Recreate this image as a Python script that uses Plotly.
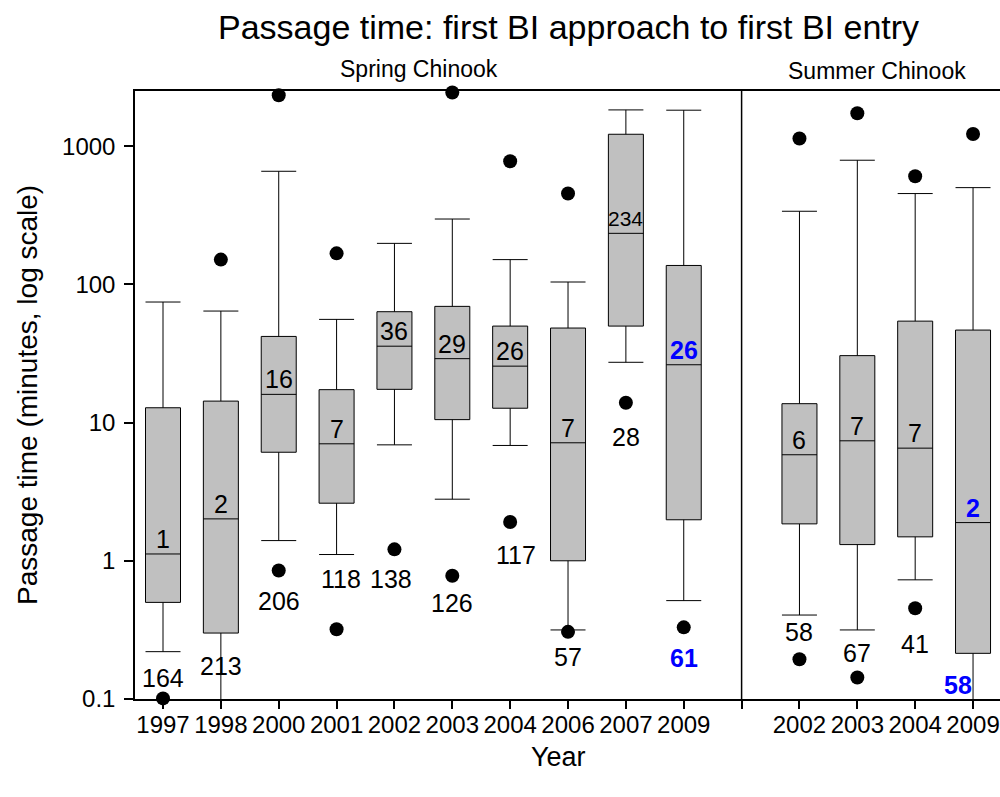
import numpy as np
import plotly.graph_objects as go

# ---- data -------------------------------------------------------------
spring_years = ["1997", "1998", "2000", "2001", "2002", "2003", "2004", "2006", "2007", "2009"]
summer_years = ["2002", "2003", "2004", "2009"]

# box summaries, passage time in minutes
spring_upper = [74.5, 64.1, 658, 55.8, 198, 297, 151, 104, 1829, 1820]
spring_q3 = [12.8, 14.3, 42, 17.3, 63.4, 69.3, 49.9, 48.3, 1219, 137]
spring_median = [1.12, 2.01, 16.0, 7.02, 35.7, 29.0, 25.6, 7.14, 234, 26.2]
spring_q1 = [0.50, 0.30, 6.1, 2.61, 17.4, 10.5, 12.7, 1.0, 49.9, 1.98]
spring_lower = [0.22, 0.04, 1.40, 1.11, 6.9, 2.79, 6.83, 0.316, 27.3, 0.515]
spring_outliers = [[0.101], [151], [2337, 0.85], [167.6, 0.32], [1.21],
                   [2445, 0.78], [778, 1.91], [454, 0.306], [13.9], [0.33]]
spring_n = [164, 213, 206, 118, 138, 126, 117, 57, 28, 61]

summer_upper = [338, 791, 454, 501]
summer_q3 = [13.7, 30.5, 54.2, 46.7]
summer_median = [5.85, 7.38, 6.53, 1.89]
summer_q1 = [1.85, 1.31, 1.49, 0.214]
summer_lower = [0.405, 0.316, 0.728, 0.04]
summer_outliers = [[1135, 0.194], [1730, 0.143], [605, 0.453], [1225]]
summer_n = [58, 67, 41, 58]

# where each sample-size label sits (minutes) and its sideways nudge (slots)
spring_n_at = [0.143, 0.1746, 0.508, 0.733, 0.733, 0.491, 1.11, 0.201, 7.80, 0.199]
spring_n_dx = [0, 0, 0, 0.07, -0.06, 0, 0.1, 0, 0, 0]
summer_n_at = [0.303, 0.217, 0.252, 0.126]
summer_n_dx = [0, 0, 0, -0.26]

tick_vals_y = [0.1, 1, 10, 100, 1000]
tick_text_y = ["0.1", "1", "10", "100", "1000"]

# ---- layout helpers ---------------------------------------------------
spring_pos = list(range(len(spring_years)))
divider_pos = len(spring_years)
summer_pos = [divider_pos + 1 + i for i in range(len(summer_years))]

positions = spring_pos + summer_pos
upper = spring_upper + summer_upper
q3 = spring_q3 + summer_q3
median = spring_median + summer_median
q1 = spring_q1 + summer_q1
lower = spring_lower + summer_lower
outliers = spring_outliers + summer_outliers
n_vals = spring_n + summer_n
n_at = spring_n_at + summer_n_at
n_dx = spring_n_dx + summer_n_dx
highlight = [y == "2009" for y in spring_years] + [y == "2009" for y in summer_years]

FONT = "Liberation Sans, Arial, Helvetica, sans-serif"
W, H = 1000, 797
ML, MR, MT, MB = 135, 0, 91, 98
PW, PH = W - ML - MR, H - MT - MB


def px_x(x):
    return (x - ML) / PW


def px_y(y):
    return (H - MB - y) / PH


fig = go.Figure()

fig.add_trace(go.Box(
    x=positions,
    q1=q1, median=median, q3=q3,
    lowerfence=lower, upperfence=upper,
    width=0.605, whiskerwidth=1,
    boxpoints=False,
    fillcolor="#c0c0c0",
    line=dict(color="black", width=1),
    showlegend=False,
    hoverinfo="skip",
))

ox, oy = [], []
for p, pts in zip(positions, outliers):
    for v in pts:
        ox.append(p)
        oy.append(v)
fig.add_trace(go.Scatter(
    x=ox, y=oy, mode="markers",
    marker=dict(color="black", size=14, line=dict(width=0)),
    cliponaxis=False, showlegend=False, hoverinfo="skip",
))

annotations = []
for p, m, hl in zip(positions, median, highlight):
    txt = f"{m:.0f}"
    size = 21 if m >= 100 else 25
    annotations.append(dict(
        x=p, y=np.log10(m), xref="x", yref="y", text=txt, showarrow=False,
        yanchor="middle", yshift=15,
        font=dict(family=FONT, size=size, color="#0000ff" if hl else "black",
                  weight="bold" if hl else "normal"),
    ))
for p, n, at, dx, hl in zip(positions, n_vals, n_at, n_dx, highlight):
    annotations.append(dict(
        x=p + dx, y=np.log10(at), xref="x", yref="y", text=str(n), showarrow=False,
        yanchor="middle",
        font=dict(family=FONT, size=25, color="#0000ff" if hl else "black",
                  weight="bold" if hl else "normal"),
    ))

annotations += [
    dict(x=px_x(568), y=px_y(27), xref="paper", yref="paper",
         text="Passage time: first BI approach to first BI entry", showarrow=False,
         xanchor="center", yanchor="middle", font=dict(family=FONT, size=34, color="black")),
    dict(x=px_x(419), y=px_y(69), xref="paper", yref="paper", text="Spring Chinook",
         showarrow=False, xanchor="center", yanchor="middle",
         font=dict(family=FONT, size=23, color="black")),
    dict(x=px_x(877), y=px_y(71), xref="paper", yref="paper", text="Summer Chinook",
         showarrow=False, xanchor="center", yanchor="middle",
         font=dict(family=FONT, size=23, color="black")),
    dict(x=px_x(558), y=px_y(757), xref="paper", yref="paper", text="Year",
         showarrow=False, xanchor="center", yanchor="middle",
         font=dict(family=FONT, size=27, color="black")),
    dict(x=px_x(27), y=px_y(395), xref="paper", yref="paper",
         text="Passage time (minutes, log scale)", textangle=-90,
         showarrow=False, xanchor="center", yanchor="middle",
         font=dict(family=FONT, size=28, color="black")),
]

tick_positions = spring_pos + [divider_pos] + summer_pos
tick_labels = spring_years + [""] + summer_years

fig.update_layout(
    width=W, height=H,
    margin=dict(l=ML, r=MR, t=MT, b=MB, pad=0),
    paper_bgcolor="white", plot_bgcolor="white",
    annotations=annotations,
    shapes=[dict(type="line", xref="x", yref="paper", x0=divider_pos, x1=divider_pos,
                 y0=0, y1=1, line=dict(color="black", width=1.5))],
    font=dict(family=FONT, color="black"),
)

fig.update_xaxes(
    range=[-0.484, len(tick_positions) - 1 + 0.466],
    tickmode="array", tickvals=tick_positions, ticktext=tick_labels,
    ticks="outside", ticklen=8, tickwidth=1.5, tickcolor="black",
    tickfont=dict(family=FONT, size=24, color="black"),
    showline=True, linecolor="black", linewidth=1.5, mirror=True,
    showgrid=False, zeroline=False, ticklabelstandoff=-5,
)
fig.update_yaxes(
    type="log", range=[-1, 3.399],
    tickmode="array", tickvals=tick_vals_y, ticktext=tick_text_y,
    ticks="outside", ticklen=9, tickwidth=1.5, tickcolor="black",
    tickfont=dict(family=FONT, size=24, color="black"),
    showline=True, linecolor="black", linewidth=1.5,
    showgrid=False, zeroline=False, ticklabelstandoff=4,
)

fig.write_html("out.html")
